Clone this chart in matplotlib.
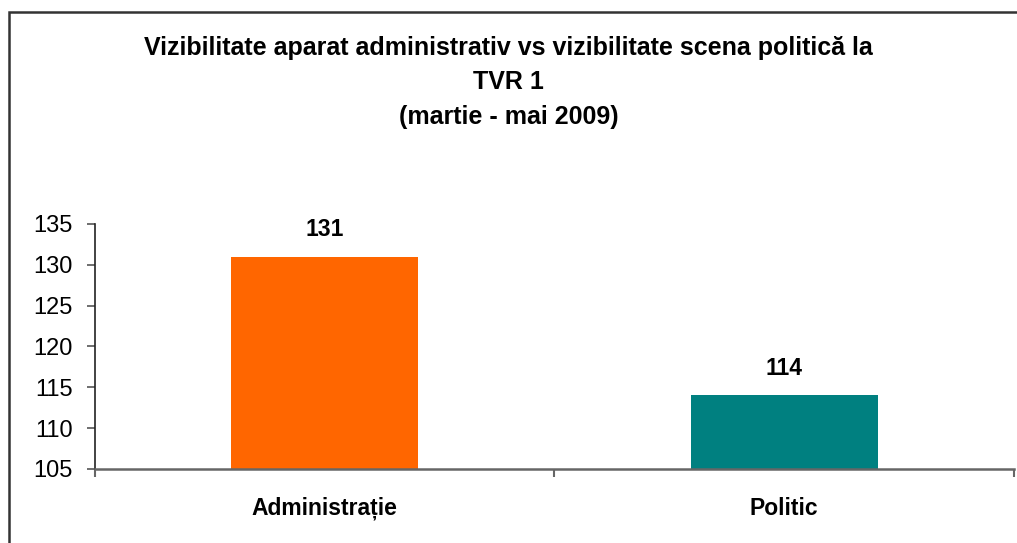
import matplotlib.pyplot as plt
from matplotlib.patches import Rectangle

categories = ['Administrație', 'Politic']
values = [131, 114]
colors = ['#FF6600', '#008080']
yticks = [105, 110, 115, 120, 125, 130, 135]
title = ('Vizibilitate aparat administrativ vs vizibilitate scena politică la\n'
         'TVR 1\n'
         '(martie - mai 2009)')

plt.rcParams['font.family'] = ['Liberation Sans', 'DejaVu Sans']

fig = plt.figure(figsize=(10.17, 5.43), dpi=100)
ax = fig.add_axes([0.0934, 0.1363, 0.9036, 0.4512])

x = range(len(categories))
ax.bar(x, values, width=0.407, color=colors)
for xi, v in zip(x, values):
    ax.annotate(str(v), (xi, v), xytext=(0, 11), textcoords='offset points',
                ha='center', va='bottom', fontsize=16.5, fontweight='bold')

ax.set_ylim(105, 135)
ax.set_xlim(-0.5, 1.5)
ax.set_yticks(yticks)
ax.tick_params(axis='y', labelsize=17, length=6, width=1.2, color='#555555', pad=10)

# category boundary ticks, labels sit on minor ticks
ax.set_xticks([-0.5, 0.5, 1.5])
ax.set_xticklabels([])
ax.tick_params(axis='x', which='major', length=6, width=1.5, color='#666666')
ax.set_xticks(list(x), minor=True)
ax.set_xticklabels(categories, minor=True, fontsize=16.5, fontweight='bold')
ax.tick_params(axis='x', which='minor', length=0, pad=20)

for s in ['top', 'right']:
    ax.spines[s].set_visible(False)
ax.spines['left'].set_color('#222222')
ax.spines['bottom'].set_color('#666666')
ax.spines['left'].set_linewidth(1.2)
ax.spines['bottom'].set_linewidth(1.8)

fig.text(0.5, 0.934, title, ha='center', va='top', fontsize=18, fontweight='bold',
         linespacing=1.55)

fig.patches.append(Rectangle((9 / 1017, -0.5), 2, 1.5 - 12 / 543, transform=fig.transFigure,
                             fill=False, edgecolor='#333333', linewidth=1.8))

fig.savefig('out.png', dpi=100)
